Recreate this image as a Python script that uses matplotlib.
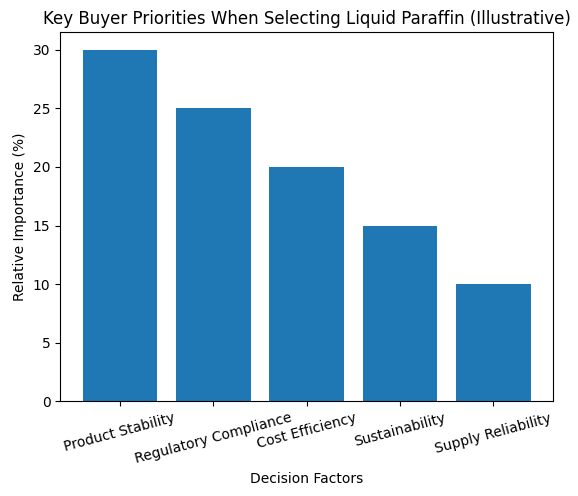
import matplotlib
matplotlib.use("Agg")
import matplotlib.pyplot as plt

categories = ["Product Stability", "Regulatory Compliance", "Cost Efficiency", "Sustainability", "Supply Reliability"]
values = [30, 25, 20, 15, 10]

fig = plt.figure(figsize=(5.78, 4.96), dpi=100)
ax = fig.add_axes([0.104, 0.191, 0.853, 0.744])
ax.bar(categories, values, color="#1f77b4")
ax.set_title("Key Buyer Priorities When Selecting Liquid Paraffin (Illustrative)")
ax.set_xlabel("Decision Factors")
ax.set_ylabel("Relative Importance (%)")
plt.setp(ax.get_xticklabels(), rotation=15)
fig.savefig("out.png", dpi=100)
